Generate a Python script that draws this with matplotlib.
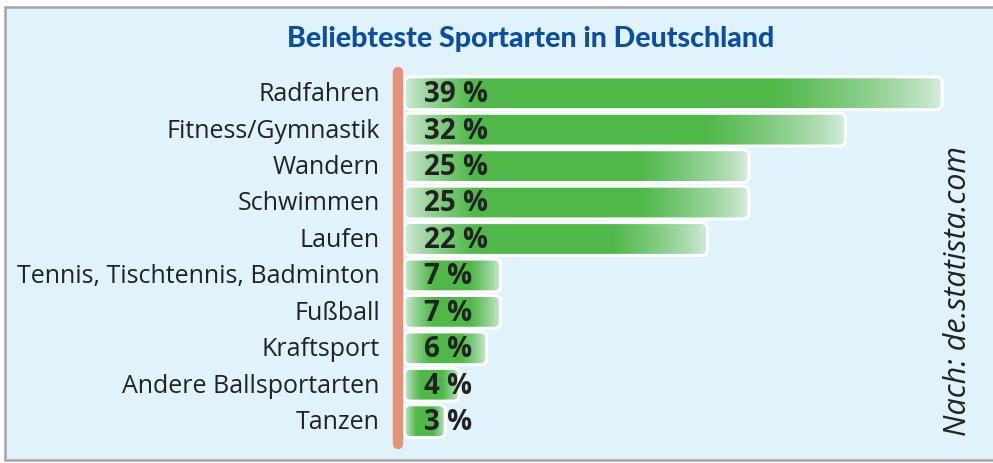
import matplotlib
matplotlib.use('Agg')
import matplotlib.pyplot as plt
import numpy as np
from matplotlib.patches import FancyBboxPatch, Rectangle
from matplotlib.colors import to_rgb

sports = ['Radfahren', 'Fitness/Gymnastik', 'Wandern', 'Schwimmen', 'Laufen',
          'Tennis, Tischtennis, Badminton', 'Fußball', 'Kraftsport',
          'Andere Ballsportarten', 'Tanzen']
shares = [39, 32, 25, 25, 22, 7, 7, 6, 4, 3]
title = 'Beliebteste Sportarten in Deutschland'
source = 'Nach: de.statista.com'

W, H = 993, 463
fig = plt.figure(figsize=(W / 100, H / 100), dpi=100)
fig.patch.set_facecolor('white')

# light blue panel with grey border
fig.patches.append(Rectangle((5 / W, 3 / H), 1.0, (456 - 3) / H, transform=fig.transFigure,
                             facecolor='#e0f2fa', edgecolor='#a5a5a5', lw=1.8, zorder=-5))

# bar area: 13.8 px per percent, 36.44 px per row
px_x = 13.8
px_y = 36.44
left = 404
top = 75
ax = fig.add_axes([left / W, (H - top - 10 * px_y) / H, 40 * px_x / W, 10 * px_y / H])
ax.set_xlim(0, 40)
ax.set_ylim(9.5, -0.5)
ax.axis('off')

green = np.array(to_rgb('#4fb848'))
pale = np.array(to_rgb('#dcefe6'))
bh = 0.9
aspect = px_x / px_y

for i, v in enumerate(shares):
    L = v * px_x
    p = np.arange(int(L) + 1)
    wl = min(70, 0.3 * L)
    wr = 0.32 * L
    g = np.minimum(np.clip(p / wl, 0, 1), np.clip((L - p) / wr, 0, 1))
    g = g ** 0.7
    cols = pale[None, :] + (green - pale)[None, :] * g[:, None]
    img = cols[None, :, :]
    box = FancyBboxPatch((0, i - bh / 2), v, bh,
                         boxstyle='round,pad=0,rounding_size=0.45',
                         mutation_aspect=aspect, facecolor='none',
                         edgecolor='white', lw=2.2, zorder=3)
    ax.add_patch(box)
    im = ax.imshow(img, extent=(0, v, i + bh / 2, i - bh / 2), aspect='auto',
                   interpolation='bilinear', zorder=2)
    im.set_clip_path(box)
    ax.text(1.45, i + 0.04, f'{v} %', ha='left', va='center', fontsize=20,
            fontweight='bold', color='#222222', family='Open Sans', zorder=4)
    ax.text(-1.75, i + 0.04, sports[i], ha='right', va='center', fontsize=18,
            color='#222222', family='Open Sans', clip_on=False)

# salmon axis line
ax.plot([-0.43, -0.43], [-0.58, 9.62], color='#e6927a', lw=7.5,
        solid_capstyle='round', clip_on=False, zorder=5)

fig.text(531 / W, 1 - 39 / H, title, ha='center', va='center', fontsize=20.5,
         fontweight='black', color='#0b4ea2', family='Lato')
fig.text(958 / W, 1 - 291 / H, source, ha='center', va='center', rotation=90,
         fontsize=22, style='italic', color='#222222', family='Open Sans')

fig.savefig('out.png', dpi=100)
